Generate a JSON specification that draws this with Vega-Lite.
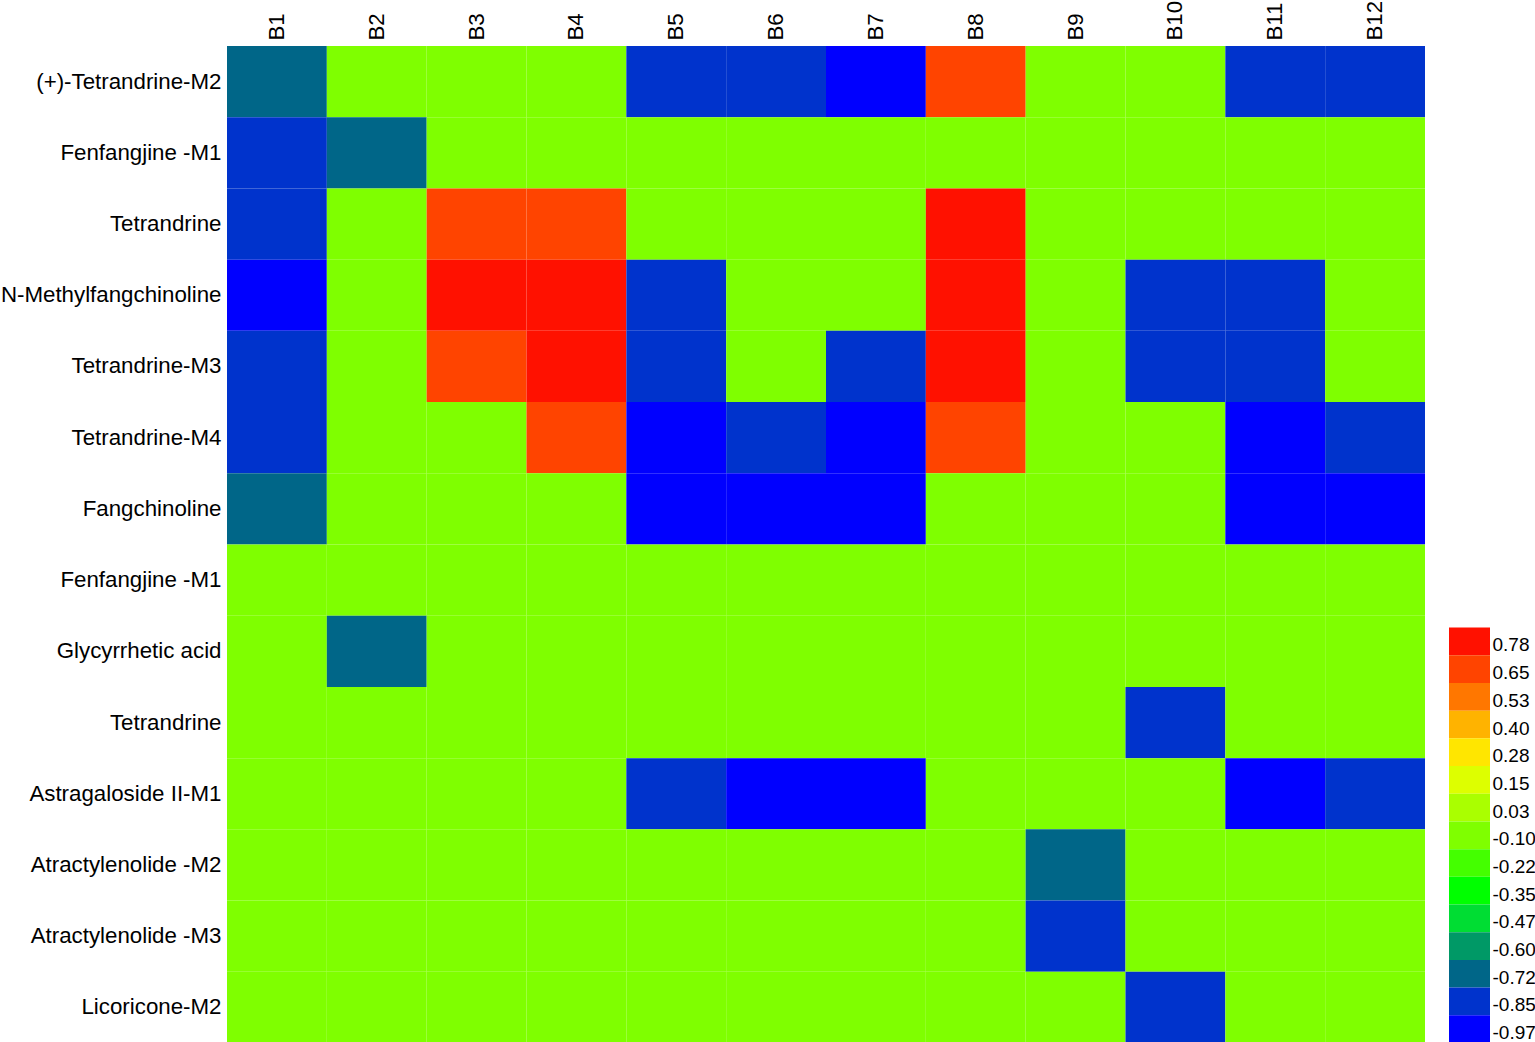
{
  "$schema": "https://vega.github.io/schema/vega-lite/v6.json",
  "padding": {"left": 0, "top": 0, "right": 0, "bottom": 0},
  "spacing": 24,
  "config": {
    "font": "Liberation Sans",
    "view": {"stroke": null},
    "axis": {"labelColor": "#000000", "ticks": false, "domain": false, "grid": false, "title": null}
  },
  "datasets": {
    "cells": [
      {"r": "(+)-Tetrandrine-M2", "B1": -0.68, "B2": -0.05, "B3": -0.05, "B4": -0.05, "B5": -0.8, "B6": -0.8, "B7": -0.93, "B8": 0.7, "B9": -0.05, "B10": -0.05, "B11": -0.8, "B12": -0.8},
      {"r": "Fenfangjine -M1", "B1": -0.8, "B2": -0.68, "B3": -0.05, "B4": -0.05, "B5": -0.05, "B6": -0.05, "B7": -0.05, "B8": -0.05, "B9": -0.05, "B10": -0.05, "B11": -0.05, "B12": -0.05},
      {"r": "Tetrandrine", "B1": -0.8, "B2": -0.05, "B3": 0.7, "B4": 0.7, "B5": -0.05, "B6": -0.05, "B7": -0.05, "B8": 0.84, "B9": -0.05, "B10": -0.05, "B11": -0.05, "B12": -0.05},
      {"r": "N-Methylfangchinoline", "B1": -0.93, "B2": -0.05, "B3": 0.84, "B4": 0.84, "B5": -0.8, "B6": -0.05, "B7": -0.05, "B8": 0.84, "B9": -0.05, "B10": -0.8, "B11": -0.8, "B12": -0.05},
      {"r": "Tetrandrine-M3", "B1": -0.8, "B2": -0.05, "B3": 0.7, "B4": 0.84, "B5": -0.8, "B6": -0.05, "B7": -0.8, "B8": 0.84, "B9": -0.05, "B10": -0.8, "B11": -0.8, "B12": -0.05},
      {"r": "Tetrandrine-M4", "B1": -0.8, "B2": -0.05, "B3": -0.05, "B4": 0.7, "B5": -0.93, "B6": -0.8, "B7": -0.93, "B8": 0.7, "B9": -0.05, "B10": -0.05, "B11": -0.93, "B12": -0.8},
      {"r": "Fangchinoline", "B1": -0.68, "B2": -0.05, "B3": -0.05, "B4": -0.05, "B5": -0.93, "B6": -0.93, "B7": -0.93, "B8": -0.05, "B9": -0.05, "B10": -0.05, "B11": -0.93, "B12": -0.93},
      {"r": "Fenfangjine -M1|2", "B1": -0.05, "B2": -0.05, "B3": -0.05, "B4": -0.05, "B5": -0.05, "B6": -0.05, "B7": -0.05, "B8": -0.05, "B9": -0.05, "B10": -0.05, "B11": -0.05, "B12": -0.05},
      {"r": "Glycyrrhetic acid", "B1": -0.05, "B2": -0.68, "B3": -0.05, "B4": -0.05, "B5": -0.05, "B6": -0.05, "B7": -0.05, "B8": -0.05, "B9": -0.05, "B10": -0.05, "B11": -0.05, "B12": -0.05},
      {"r": "Tetrandrine|2", "B1": -0.05, "B2": -0.05, "B3": -0.05, "B4": -0.05, "B5": -0.05, "B6": -0.05, "B7": -0.05, "B8": -0.05, "B9": -0.05, "B10": -0.8, "B11": -0.05, "B12": -0.05},
      {"r": "Astragaloside II-M1", "B1": -0.05, "B2": -0.05, "B3": -0.05, "B4": -0.05, "B5": -0.8, "B6": -0.93, "B7": -0.93, "B8": -0.05, "B9": -0.05, "B10": -0.05, "B11": -0.93, "B12": -0.8},
      {"r": "Atractylenolide -M2", "B1": -0.05, "B2": -0.05, "B3": -0.05, "B4": -0.05, "B5": -0.05, "B6": -0.05, "B7": -0.05, "B8": -0.05, "B9": -0.68, "B10": -0.05, "B11": -0.05, "B12": -0.05},
      {"r": "Atractylenolide -M3", "B1": -0.05, "B2": -0.05, "B3": -0.05, "B4": -0.05, "B5": -0.05, "B6": -0.05, "B7": -0.05, "B8": -0.05, "B9": -0.8, "B10": -0.05, "B11": -0.05, "B12": -0.05},
      {"r": "Licoricone-M2", "B1": -0.05, "B2": -0.05, "B3": -0.05, "B4": -0.05, "B5": -0.05, "B6": -0.05, "B7": -0.05, "B8": -0.05, "B9": -0.05, "B10": -0.8, "B11": -0.05, "B12": -0.05}
    ],
    "legend": [
      {"t": "0.78", "v": 0.78},
      {"t": "0.65", "v": 0.65},
      {"t": "0.53", "v": 0.53},
      {"t": "0.40", "v": 0.4},
      {"t": "0.28", "v": 0.28},
      {"t": "0.15", "v": 0.15},
      {"t": "0.03", "v": 0.03},
      {"t": "-0.10", "v": -0.1},
      {"t": "-0.22", "v": -0.22},
      {"t": "-0.35", "v": -0.35},
      {"t": "-0.47", "v": -0.47},
      {"t": "-0.60", "v": -0.6},
      {"t": "-0.72", "v": -0.72},
      {"t": "-0.85", "v": -0.85},
      {"t": "-0.97", "v": -0.97}
    ]
  },
  "hconcat": [
    {
      "width": 1198,
      "height": 997,
      "data": {"name": "cells"},
      "transform": [{"fold": ["B1", "B2", "B3", "B4", "B5", "B6", "B7", "B8", "B9", "B10", "B11", "B12"], "as": ["c", "v"]}],
      "mark": {"type": "rect"},
      "encoding": {
        "x": {
          "field": "c", "type": "nominal",
          "sort": ["B1", "B2", "B3", "B4", "B5", "B6", "B7", "B8", "B9", "B10", "B11", "B12"],
          "scale": {"paddingInner": 0, "paddingOuter": 0},
          "axis": {"orient": "top", "labelAngle": -90, "labelAlign": "left", "labelBaseline": "middle", "labelFontSize": 22.3, "labelPadding": 6}
        },
        "y": {
          "field": "r", "type": "nominal",
          "sort": ["(+)-Tetrandrine-M2", "Fenfangjine -M1", "Tetrandrine", "N-Methylfangchinoline", "Tetrandrine-M3", "Tetrandrine-M4", "Fangchinoline", "Fenfangjine -M1|2", "Glycyrrhetic acid", "Tetrandrine|2", "Astragaloside II-M1", "Atractylenolide -M2", "Atractylenolide -M3", "Licoricone-M2"],
          "scale": {"paddingInner": 0, "paddingOuter": 0},
          "axis": {"labelExpr": "split(datum.label, '|')[0]", "labelFontSize": 22.3, "labelPadding": 6, "labelLimit": 0}
        },
        "color": {
          "field": "v", "type": "quantitative",
          "scale": {
            "type": "threshold",
            "domain": [-0.85, -0.72, -0.6, -0.47, -0.35, -0.22, -0.1, 0.03, 0.15, 0.28, 0.4, 0.53, 0.65, 0.78],
            "range": ["#0000FF", "#0033CC", "#006688", "#009966", "#00DD33", "#00FF00", "#44FF00", "#7FFF00", "#AAFF00", "#DDFF00", "#FFE600", "#FFB300", "#FF7700", "#FF4400", "#FF1100"]
          },
          "legend": null
        }
      }
    },
    {
      "width": 41,
      "height": 997,
      "data": {"name": "legend"},
      "mark": {"type": "rect"},
      "encoding": {
        "y": {
          "field": "t", "type": "nominal",
          "scale": {
            "paddingInner": 0, "paddingOuter": 0,
            "domain": ["_01", "_02", "_03", "_04", "_05", "_06", "_07", "_08", "_09", "_10", "_11", "_12", "_13", "_14", "_15", "_16", "_17", "_18", "_19", "_20", "_21",
                       "0.78", "0.65", "0.53", "0.40", "0.28", "0.15", "0.03", "-0.10", "-0.22", "-0.35", "-0.47", "-0.60", "-0.72", "-0.85", "-0.97"]
          },
          "axis": {
            "orient": "right", "labelFontSize": 19, "labelPadding": 2, "labelOffset": 4,
            "values": ["0.78", "0.65", "0.53", "0.40", "0.28", "0.15", "0.03", "-0.10", "-0.22", "-0.35", "-0.47", "-0.60", "-0.72", "-0.85", "-0.97"]
          }
        },
        "color": {
          "field": "v", "type": "quantitative",
          "scale": {
            "type": "threshold",
            "domain": [-0.85, -0.72, -0.6, -0.47, -0.35, -0.22, -0.1, 0.03, 0.15, 0.28, 0.4, 0.53, 0.65, 0.78],
            "range": ["#0000FF", "#0033CC", "#006688", "#009966", "#00DD33", "#00FF00", "#44FF00", "#7FFF00", "#AAFF00", "#DDFF00", "#FFE600", "#FFB300", "#FF7700", "#FF4400", "#FF1100"]
          },
          "legend": null
        }
      }
    }
  ]
}
